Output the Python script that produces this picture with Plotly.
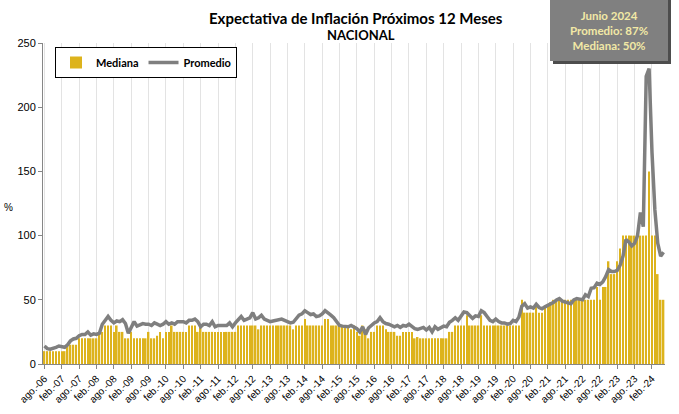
import plotly.graph_objects as go

# ---------------- data ----------------
month_names = ["ene.", "feb.", "mar.", "abr.", "may.", "jun.",
               "jul.", "ago.", "sep.", "oct.", "nov.", "dic."]
start_year, start_month = 2006, 8   # ago.-06
end_year, end_month = 2024, 6       # jun.-24

months = []
y, m = start_year, start_month
while (y, m) <= (end_year, end_month):
    months.append(f"{month_names[m - 1]}-{str(y)[2:]}")
    m += 1
    if m > 12:
        m = 1
        y += 1

mediana = [
    10, 10, 10, 10, 10, 10, 10, 10, 15, 15, 15, 15,          # ago06-jul07
    20, 20, 20, 20, 20, 20, 20, 25, 25, 30, 30, 30,          # ago07-jul08
    25, 30, 25, 25, 20, 20, 25, 20, 20, 20, 20, 20,          # ago08-jul09
    25, 20, 20, 22, 25, 20, 25, 25, 30, 25, 25, 25,          # ago09-jul10
    25, 25, 30, 30, 30, 25, 30, 25, 25, 25, 25, 25,          # ago10-jul11
    25, 25, 25, 25, 25, 25, 25, 30, 30, 30, 30, 30,          # ago11-jul12
    30, 30, 27, 30, 30, 30, 30, 30, 30, 30, 30, 30,          # ago12-jul13
    30, 30, 27, 30, 30, 30, 35, 30, 30, 30, 30, 30,          # ago13-jul14
    30, 35, 35, 30, 30, 30, 30, 30, 28, 28, 27, 30,          # ago14-jul15
    25, 22, 30, 27, 20, 25, 25, 30, 30, 30, 27, 25,          # ago15-jul16
    25, 25, 22, 22, 25, 25, 25, 25, 20, 21, 20, 20,          # ago16-jul17
    20, 20, 20, 20, 20, 20, 20, 20, 25, 25, 30, 30,          # ago17-jul18
    30, 30, 38, 30, 30, 30, 30, 38, 30, 30, 30, 30,          # ago18-jul19
    30, 30, 30, 30, 30, 30, 30, 30, 30, 50, 40, 40,          # ago19-jul20
    40, 40, 45, 40, 40, 45, 45, 48, 50, 50, 50, 50,          # ago20-jul21
    50, 50, 50, 50, 50, 50, 50, 50, 50, 50, 50, 60,          # ago21-jul22
    50, 60, 60, 80, 70, 70, 80, 90, 100, 100, 100, 100,      # ago22-jul23
    100, 100, 100, 100, 100, 150, 100, 100, 70, 50, 50,      # ago23-jun24
]

promedio = [
    14, 12, 11.5, 12, 13, 14, 13.5, 13, 15, 18, 19.5, 20,
    22, 23, 23, 25, 22.5, 23.5, 23, 24, 31, 34, 37, 34,
    32, 33.5, 33, 34.5, 31.5, 24, 29, 33, 29.5, 30.5, 31.5, 31,
    31, 30, 32, 31, 30, 31, 33, 31, 32, 31, 33, 33,
    33, 32, 34, 34, 35, 33, 29, 31, 31, 30, 33, 29,
    30, 30, 30, 30, 32, 29, 32, 35, 37, 34, 35, 36,
    40, 35, 36, 38, 35, 34, 33, 33.5, 34, 34.5, 35, 34,
    33, 32, 32.5, 35, 38, 39, 41.5, 40, 38.5, 39, 37, 37.5,
    39, 41.5, 40, 38, 36, 33, 30, 29.5, 29.5, 29, 30, 29,
    27.5, 25, 29, 23, 28, 30, 32, 33, 36, 33, 31.5, 31,
    30, 29, 30, 28.5, 30, 29.5, 31, 29, 27.5, 27, 28, 28.5,
    26.5, 28.5, 25, 29, 27, 28.5, 29.5, 29, 32.5, 34, 36, 34,
    37, 40.5, 40, 38, 35.5, 37.5, 37, 41.5, 40, 37, 34, 33,
    35, 33, 32, 32, 31, 31.5, 34, 33, 36.5, 45, 47, 43.5,
    44.5, 43.5, 46.5, 44, 43, 44.5, 45.5, 46.7, 48, 49.8, 51, 49,
    48.5, 48, 47, 50, 51, 50.5, 50, 54, 52.5, 59, 59.5, 63,
    62, 64, 68, 73.5, 72, 72, 73, 77, 84, 97, 95, 92,
    94, 100, 118, 107, 224, 230, 165, 120, 94, 84, 87,
]

tick_labels = months[::6]
y_ticks = [0, 50, 100, 150, 200, 250]
box_lines = ["Junio 2024", "Promedio: 87%", "Mediana: 50%"]

# ---------------- figure ----------------
W, H = 679, 414
L, R, T, B = 43, 14, 43, 50
PW, PH = W - L - R, H - T - B


def px(x):
    return (x - L) / PW


def py(y):
    return (H - B - y) / PH


fig = go.Figure()
fig.add_trace(go.Bar(
    x=months, y=mediana, name="Mediana",
    marker=dict(color="#DDB31C", line=dict(width=0)),
))
fig.add_trace(go.Scatter(
    x=months, y=promedio, name="Promedio", mode="lines",
    line=dict(color="#7F7F7F", width=3.5),
))

font_main = "Lato, 'DejaVu Sans', sans-serif"

fig.update_layout(
    width=W, height=H,
    margin=dict(l=L, r=R, t=T, b=B),
    paper_bgcolor="white", plot_bgcolor="white",
    bargap=0.45,
    showlegend=True,
    legend=dict(
        orientation="h", x=px(55), y=py(47), xanchor="left", yanchor="top",
        bgcolor="white", bordercolor="#000000", borderwidth=1,
        font=dict(family=font_main, size=11, color="#000000", weight="bold"),
        itemwidth=30, tracegroupgap=0,
    ),
    xaxis=dict(
        type="category", tickmode="array", tickvals=tick_labels, ticktext=tick_labels,
        tickangle=-45, tickfont=dict(family="'Liberation Sans', Arial", size=10, color="#000000"),
        showgrid=True, gridcolor="#E3E3E3", gridwidth=1,
        showline=True, linecolor="#868686", linewidth=1,
        ticks="outside", ticklen=4, tickcolor="#868686",
        range=[-0.5, len(months) - 0.5], automargin=False,
    ),
    yaxis=dict(
        range=[0, 250], tickvals=y_ticks,
        tickfont=dict(family="'Liberation Sans', Arial", size=11, color="#000000"),
        showgrid=False, zeroline=False,
        showline=True, linecolor="#868686", linewidth=1,
        ticks="outside", ticklen=4, tickcolor="#868686", automargin=False,
    ),
)

# title
fig.add_annotation(text="<b>Expectativa de Inflación Próximos 12 Meses</b>",
                   xref="paper", yref="paper", x=px(356), y=py(18),
                   xanchor="center", yanchor="middle",
                   showarrow=False, font=dict(family=font_main, size=15, color="#000000"))
fig.add_annotation(text="<b>NACIONAL</b>",
                   xref="paper", yref="paper", x=px(361), y=py(35),
                   xanchor="center", yanchor="middle",
                   showarrow=False, font=dict(family=font_main, size=13, color="#000000"))
# y axis title
fig.add_annotation(text="%", xref="paper", yref="paper", x=px(8), y=py(207),
                   xanchor="center", yanchor="middle",
                   showarrow=False, font=dict(family="'Liberation Sans', Arial", size=10, color="#000000"))

# info box (shadow + box)
fig.add_shape(type="rect", xref="paper", yref="paper",
              x0=px(553), x1=px(671), y0=py(-5), y1=py(64),
              fillcolor="#4D4D4D", line=dict(width=0), layer="above")
fig.add_shape(type="rect", xref="paper", yref="paper",
              x0=px(550), x1=px(668), y0=py(-5), y1=py(61),
              fillcolor="#808080", line=dict(width=0), layer="above")
fig.add_annotation(text="<b>" + "<br>".join(box_lines) + "</b>",
                   xref="paper", yref="paper", x=px(609), y=py(30.5),
                   xanchor="center", yanchor="middle", align="center",
                   showarrow=False,
                   font=dict(family=font_main, size=11.5, color="#F2E9A6"))

fig.write_html("out.html", config={"displayModeBar": False},
               post_script="document.body.style.margin='0px';")
